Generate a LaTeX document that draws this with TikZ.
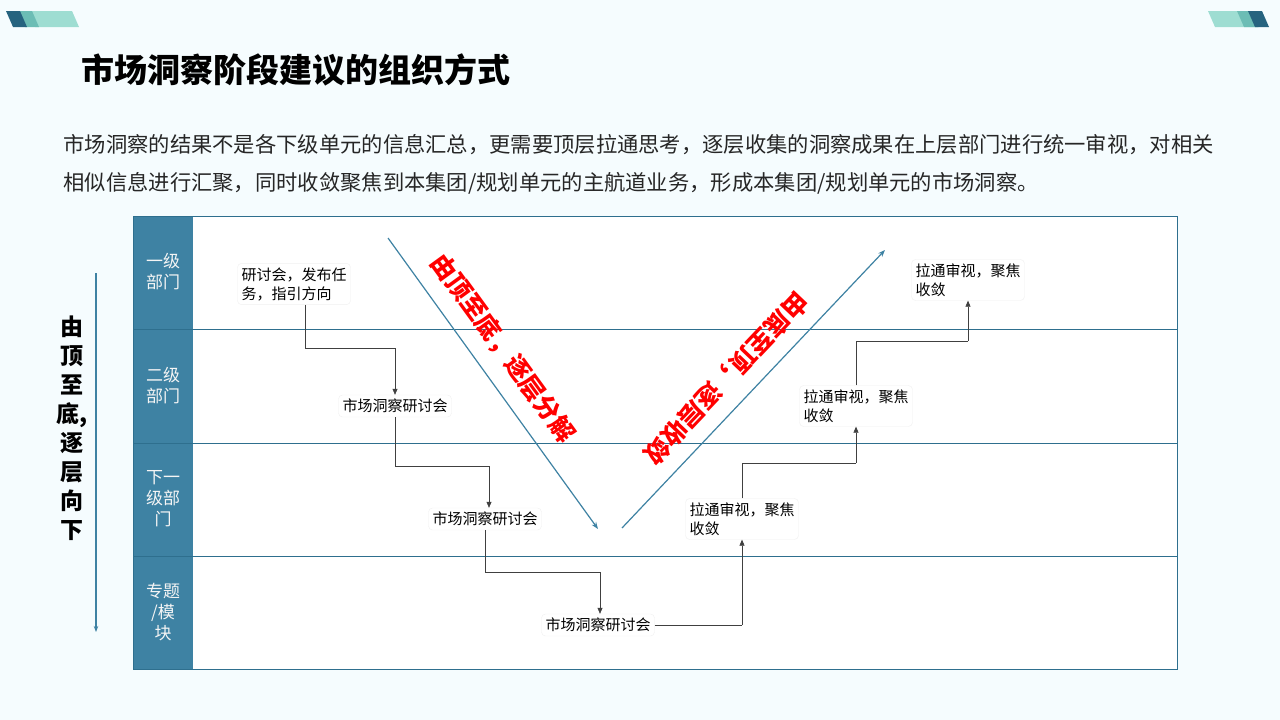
\documentclass[tikz,border=0pt]{standalone}
\usepackage{fontspec}
\setmainfont{Noto Sans CJK SC}
\usetikzlibrary{arrows.meta}
\definecolor{band}{HTML}{3E82A3}
\definecolor{lane}{HTML}{2E6F8E}
\definecolor{dk}{HTML}{26637F}
\definecolor{md}{HTML}{6CBDB5}
\definecolor{lt}{HTML}{9EDDD2}
\begin{document}
\begin{tikzpicture}[x=1pt,y=-1pt,
  box/.style={draw=gray!12,rounded corners=4pt,fill=white,font=\fontsize{15}{19}\selectfont,inner sep=4pt},
  lab/.style={text=white!92!gray,font=\fontsize{17}{21}\selectfont,align=center},
  con/.style={draw=black!75,line width=0.6pt},
  arr/.style={con,-{Triangle[length=6pt,width=5pt]}},
  red/.style={text=red,font=\bfseries\fontsize{25}{27}\selectfont}]
\useasboundingbox (0,0) rectangle (1280,720);
\fill[white!96!cyan] (0,0) rectangle (1280,720);
% corner decorations
\fill[lt] (28,11) -- (72,11) -- (79,27) -- (35,27) -- cycle;
\fill[md] (18,11) -- (32,11) -- (39,27) -- (25,27) -- cycle;
\fill[dk] (6,11) -- (20,11) -- (27,27) -- (13,27) -- cycle;
\fill[lt] (1208,11) -- (1252,11) -- (1259,27) -- (1215,27) -- cycle;
\fill[md] (1237,11) -- (1251,11) -- (1258,27) -- (1244,27) -- cycle;
\fill[dk] (1248,11) -- (1262,11) -- (1269,27) -- (1255,27) -- cycle;
% title & text
\node[anchor=west,font=\bfseries\fontsize{33}{36}\selectfont] (title) at (78,70) {市场洞察阶段建议的组织方式};
\node[anchor=west,text=black!85,font=\fontsize{21.3}{26}\selectfont] (p1) at (60,145) {市场洞察的结果不是各下级单元的信息汇总，更需要顶层拉通思考，逐层收集的洞察成果在上层部门进行统一审视，对相关};
\node[anchor=west,text=black!85,font=\fontsize{21.3}{26}\selectfont] (p2) at (60,183) {相似信息进行汇聚，同时收敛聚焦到本集团/规划单元的主航道业务，形成本集团/规划单元的市场洞察。};
% table
\fill[white] (133,216) rectangle (1177,669);
\fill[band] (133,216) rectangle (193,669);
\foreach \y in {329,443,556} \draw[lane,line width=1pt] (133,\y) -- (1177,\y);
\draw[lane,line width=1pt] (133,216) rectangle (1177,669);
\node[lab] (l1) at (163,272) {一级\\部门};
\node[lab] (l2) at (163,386) {二级\\部门};
\node[lab] (l3) at (163,499) {下一\\级部\\门};
\node[lab] (l4) at (163,612) {专题\\/模\\块};
% left arrow
\coordinate (va) at (96,273); \coordinate (vb) at (96,632);
\draw[band,line width=1.2pt,-{Stealth[length=6pt]}] (va) -- (vb);
\node[font=\bfseries\fontsize{23}{29}\selectfont,align=center] (vt) at (72,428) {由\\顶\\至\\底,\\逐\\层\\向\\下};
% diagonals
\coordinate (d1) at (388,238); \coordinate (d2) at (598,529);
\coordinate (u1) at (622,528); \coordinate (u2) at (885,250);
\draw[band,line width=1.2pt,-{Stealth[length=7pt]}] (d1) -- (d2);
\draw[band,line width=1.2pt,-{Stealth[length=7pt]}] (u1) -- (u2);
\node[red,rotate=-54] (rt1) at (503,348) {由顶至底，逐层分解};
\node[red,rotate=-133.5] (rt2) at (726,378) {由底至顶，逐层收敛};
% boxes
\node[box,align=left] (b1) at (294,284) {研讨会，发布任\\务，指引方向};
\node[box] (b2) at (395,406) {市场洞察研讨会};
\node[box] (b3) at (485,519) {市场洞察研讨会};
\node[box] (b4) at (598,625) {市场洞察研讨会};
\node[box,align=left] (b5) at (742,519) {拉通审视，聚焦\\收敛};
\node[box,align=left] (b6) at (856,406) {拉通审视，聚焦\\收敛};
\node[box,align=left] (b7) at (968,280) {拉通审视，聚焦\\收敛};
% connectors
\draw[con] (b1.south -| 305,0) -- (305,348) -- (395,348);
\draw[arr] (395,348) -- (b2.north);
\draw[con] (b2.south) -- (395,466) -- (489,466);
\draw[arr] (489,466) -- (b3.north -| 489,0);
\draw[con] (b3.south) -- (485,572) -- (600,572);
\draw[arr] (600,572) -- (b4.north -| 600,0);
\draw[con] (b4.east) -- (742,625);
\draw[arr] (742,625) -- (b5.south);
\draw[con] (b5.north) -- (742,463) -- (856,463);
\draw[arr] (856,463) -- (b6.south);
\draw[con] (b6.north) -- (856,341) -- (968,341);
\draw[arr] (968,341) -- (b7.south);
\end{tikzpicture}
\end{document}
